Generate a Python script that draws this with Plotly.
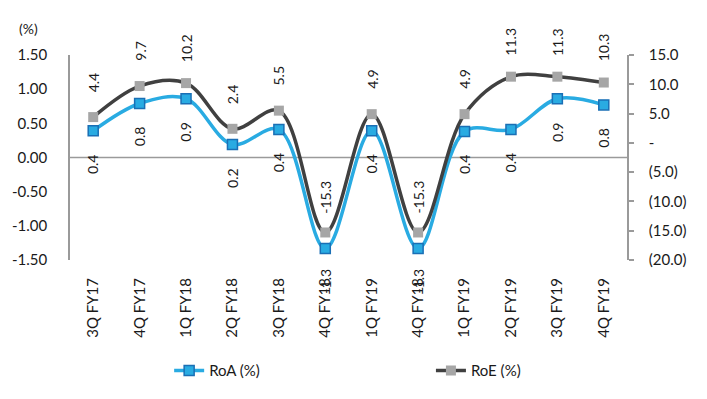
import plotly.graph_objects as go

# Quarter labels (4Q FY18 appears twice in the series)
quarters = ["3Q FY17", "4Q FY17", "1Q FY18", "2Q FY18", "3Q FY18", "4Q FY18",
            "1Q FY19", "4Q FY18", "1Q FY19", "2Q FY19", "3Q FY19", "4Q FY19"]
roa = [0.39, 0.79, 0.86, 0.19, 0.41, -1.33, 0.39, -1.33, 0.38, 0.41, 0.86, 0.77]
roa_labels = ["0.4", "0.8", "0.9", "0.2", "0.4", "-1.3", "0.4", "-1.3", "0.4", "0.4", "0.9", "0.8"]
roe = [4.4, 9.7, 10.2, 2.4, 5.5, -15.3, 4.9, -15.3, 4.9, 11.3, 11.3, 10.3]
roe_labels = ["4.4", "9.7", "10.2", "2.4", "5.5", "-15.3", "4.9", "-15.3", "4.9", "11.3", "11.3", "10.3"]

left_ticks = [1.5, 1.0, 0.5, 0.0, -0.5, -1.0, -1.5]
left_ticktext = ["1.50", "1.00", "0.50", "0.00", "-0.50", "-1.00", "-1.50"]
right_ticks = [15, 10, 5, 0, -5, -10, -15, -20]
right_ticktext = ["15.0", "10.0", "5.0", "-", "(5.0)", "(10.0)", "(15.0)", "(20.0)"]

x = list(range(len(quarters)))

FONT = "Lato, 'Open Sans', sans-serif"
TEXT = "#1a1a1a"
AXIS = "#9a9a9a"
BLUE = "#29abe2"
BLUE_EDGE = "#1a6fb5"
DARK = "#404040"
GREY = "#a6a6a6"

fig = go.Figure()

fig.add_trace(go.Scatter(
    x=x, y=roa, name="RoA (%)", mode="lines+markers",
    line=dict(color=BLUE, width=3.5, shape="spline", smoothing=1.0),
    marker=dict(symbol="square", size=10, color=BLUE, line=dict(color=BLUE_EDGE, width=1.5)),
    yaxis="y", cliponaxis=False, legend="legend",
))
fig.add_trace(go.Scatter(
    x=x, y=roe, name="RoE (%)", mode="lines+markers",
    line=dict(color=DARK, width=3.5, shape="spline", smoothing=1.0),
    marker=dict(symbol="square", size=10, color=GREY),
    yaxis="y2", cliponaxis=False, legend="legend2",
))

annotations = []
for xi, v, t in zip(x, roa, roa_labels):
    annotations.append(dict(x=xi, y=v, xref="x", yref="y", text=t, textangle=-90,
                            showarrow=False, yshift=-33,
                            font=dict(family=FONT, size=14, color=TEXT)))
for xi, v, t in zip(x, roe, roe_labels):
    annotations.append(dict(x=xi, y=v, xref="x", yref="y2", text=t, textangle=-90,
                            showarrow=False, yshift=35,
                            font=dict(family=FONT, size=14, color=TEXT)))
annotations.append(dict(x=-0.095, y=1.13, xref="paper", yref="paper", text="(%)",
                        showarrow=False, xanchor="left", yanchor="middle",
                        font=dict(family=FONT, size=14, color=TEXT)))

legend_style = dict(orientation="h", yanchor="middle", xanchor="left",
                    font=dict(family=FONT, size=15, color=TEXT), bgcolor="rgba(0,0,0,0)")

fig.update_layout(
    width=707, height=399,
    margin=dict(l=65, r=80, t=55, b=136),
    paper_bgcolor="white", plot_bgcolor="white",
    font=dict(family=FONT, size=14, color=TEXT),
    showlegend=True,
    legend=dict(x=0.178, y=-0.54, **legend_style),
    legend2=dict(x=0.648, y=-0.54, **legend_style),
    xaxis=dict(range=[-0.5, 11.5], tickvals=x, ticktext=quarters, tickangle=-90,
               showgrid=False, zeroline=False, showline=False, ticks="",
               tickfont=dict(family=FONT, size=15, color=TEXT), ticklabelstandoff=14),
    yaxis=dict(range=[-1.5, 1.5], tickvals=left_ticks, ticktext=left_ticktext,
               showgrid=False, zeroline=False, showline=True, linecolor=AXIS, linewidth=1.5,
               ticks="", ticklabelstandoff=18,
               tickfont=dict(family=FONT, size=15, color=TEXT)),
    yaxis2=dict(range=[-20, 15], tickvals=right_ticks, ticktext=right_ticktext,
                overlaying="y", side="right",
                showgrid=False, zeroline=False, showline=True, linecolor=AXIS, linewidth=1.5,
                ticks="outside", ticklen=5, tickcolor=AXIS, tickwidth=1.5,
                ticklabelstandoff=12,
                tickfont=dict(family=FONT, size=15, color=TEXT)),
    annotations=annotations,
    shapes=[dict(type="line", xref="paper", yref="y", x0=0, x1=1, y0=0, y1=0,
                 line=dict(color=AXIS, width=1.5), layer="below")],
)

fig.write_html("out.html")
